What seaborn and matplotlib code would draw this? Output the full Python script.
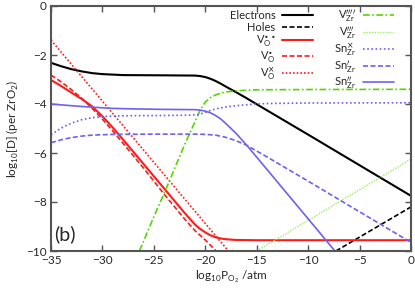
import matplotlib
matplotlib.use("Agg")
import matplotlib.pyplot as plt
import seaborn as sns

# log10 pO2 (atm) -> log10 [D] (per ZrO2)
elec_x = [-35, -34, -33, -32, -31, -30, -28, -24, -21, -20.5, -20, -19.5, -19, -18.5, -18, -17, -16, -15, -10, -5, 0]
elec_y = [-2.32, -2.46, -2.58, -2.67, -2.74, -2.78, -2.82, -2.83, -2.84, -2.86, -2.9, -2.97, -3.06, -3.17, -3.29, -3.52, -3.76, -4.01, -5.25, -6.5, -7.75]

holes_x = [-7.3, 0]
holes_y = [-10, -8.2]

vo2_x = [-35, -34, -33, -32, -31, -30, -29, -28, -26, -24, -22, -21, -20.5, -20, -19.5, -19, -18.5, -18, -17, -15, -10, 0]
vo2_y = [-3.02, -3.27, -3.54, -3.8, -4.1, -4.5, -4.96, -5.45, -6.45, -7.45, -8.45, -8.92, -9.1, -9.24, -9.36, -9.44, -9.49, -9.52, -9.55, -9.56, -9.56, -9.56]

vo1_x = [-35, -34, -33, -32, -31, -30, -29, -28, -26, -24, -22, -21, -20, -18.95]
vo1_y = [-2.82, -3.1, -3.42, -3.77, -4.18, -4.62, -5.1, -5.6, -6.62, -7.68, -8.7, -9.17, -9.55, -10.0]

vo0_x = [-35, -17.75]
vo0_y = [-1.39, -10]

vzr4_x = [-26.4, -25, -24, -23, -22, -21, -20.5, -20, -19.5, -19, -18.5, -18, -17, -15, -10, 0]
vzr4_y = [-10, -8.6, -7.65, -6.65, -5.65, -4.72, -4.25, -3.92, -3.74, -3.63, -3.56, -3.51, -3.46, -3.42, -3.41, -3.4]

vzr3_x = [-15, 0]
vzr3_y = [-10, -6.25]

snx_x = [-35, -34, -33, -32, -31, -30, -28, -24, -21, -20.5, -20, -19.5, -19, -18, -17, -16, -14, -10, 0]
snx_y = [-5.25, -4.98, -4.78, -4.64, -4.56, -4.51, -4.48, -4.47, -4.45, -4.41, -4.34, -4.26, -4.2, -4.12, -4.07, -4.03, -3.98, -3.96, -3.95]

sn1_x = [-35, -34, -33, -32, -31, -29, -25, -21, -20, -19, -18, -17, -16, -15, -14, -10, -5, 0]
sn1_y = [-5.58, -5.46, -5.37, -5.31, -5.27, -5.24, -5.23, -5.23, -5.24, -5.27, -5.36, -5.5, -5.68, -5.92, -6.16, -7.15, -8.4, -9.65]

sn2_x = [-35, -33, -31, -29, -27, -24, -21, -20.5, -20, -19.5, -19, -18.5, -18, -17, -16, -15, -12, -9, -7.4]
sn2_y = [-4.0, -4.07, -4.13, -4.18, -4.2, -4.22, -4.23, -4.25, -4.29, -4.36, -4.47, -4.61, -4.8, -5.2, -5.67, -6.17, -7.68, -9.19, -10.0]

x_ticks = [-35, -30, -25, -20, -15, -10, -5, 0]
y_ticks = [0, -2, -4, -6, -8, -10]

RED = "#ff1a1a"
GREEN = "#55d600"
LGREEN = "#99ee66"
BLUE = "#7060f0"

# (label, x, y, color, linestyle, linewidth)
series = [
    ("Electrons", elec_x, elec_y, "black", "-", 1.5),
    ("Holes", holes_x, holes_y, "black", (0, (3, 1.5)), 1.2),
    (r"V$_\mathregular{O}^{\bullet\bullet}$", vo2_x, vo2_y, RED, "-", 1.5),
    (r"V$_\mathregular{O}^{\bullet}$", vo1_x, vo1_y, RED, (0, (3, 1.5)), 1.2),
    (r"V$_\mathregular{O}^{\times}$", vo0_x, vo0_y, RED, (0, (1, 1.2)), 1.2),
    (r"V$_\mathregular{Zr}^{\prime\prime\prime\prime}$", vzr4_x, vzr4_y, GREEN, (0, (4, 1.5, 1, 1.5)), 1.2),
    (r"V$_\mathregular{Zr}^{\prime\prime\prime}$", vzr3_x, vzr3_y, LGREEN, (0, (1, 1)), 1.0),
    (r"Sn$_\mathregular{Zr}^{\times}$", snx_x, snx_y, BLUE, (0, (1, 1.5)), 1.2),
    (r"Sn$_\mathregular{Zr}^{\prime}$", sn1_x, sn1_y, BLUE, (0, (3, 1.5)), 1.2),
    (r"Sn$_\mathregular{Zr}^{\prime\prime}$", sn2_x, sn2_y, BLUE, "-", 1.2),
]

sns.set_theme(style="ticks")
plt.rcParams["font.family"] = ["Lato", "DejaVu Sans"]
plt.rcParams["mathtext.fontset"] = "dejavusans"

fig = plt.figure(figsize=(4.15, 2.93), dpi=100)
ax = fig.add_axes([51 / 415, 1 - 251 / 293, 360 / 415, 245 / 293])

for label, xs, ys, color, ls, lw in series:
    sns.lineplot(x=xs, y=ys, ax=ax, color=color, linestyle=ls, linewidth=lw,
                 label=label, errorbar=None)

ax.set_xlim(-35, 0)
ax.set_ylim(-10, 0)
ax.set_xticks(x_ticks)
ax.set_yticks(y_ticks)
ax.tick_params(direction="in", length=4, width=1, color="#555555",
               top=True, right=True, labelsize=8.5, pad=3)
for side in ax.spines.values():
    side.set_color("#555555")
    side.set_linewidth(1.5)

ax.set_xlabel(r"log$_\mathregular{10}$P$_\mathregular{O_2}$ /atm", fontsize=8.5, labelpad=2)
ax.set_ylabel(r"log$_\mathregular{10}$[D] (per ZrO$_\mathregular{2}$)", fontsize=8.5, labelpad=4)

ax.text(0.01, 0.03, "(b)", transform=ax.transAxes, fontsize=14,
        ha="left", va="bottom")

ax.legend(ncol=2, markerfirst=False, frameon=False, loc="upper right",
          bbox_to_anchor=(0.955, 0.995), fontsize=8, handlelength=2.8,
          handletextpad=0.6, columnspacing=1.9, labelspacing=0.05,
          borderaxespad=0, borderpad=0.1)

fig.savefig("out.png", dpi=100)
